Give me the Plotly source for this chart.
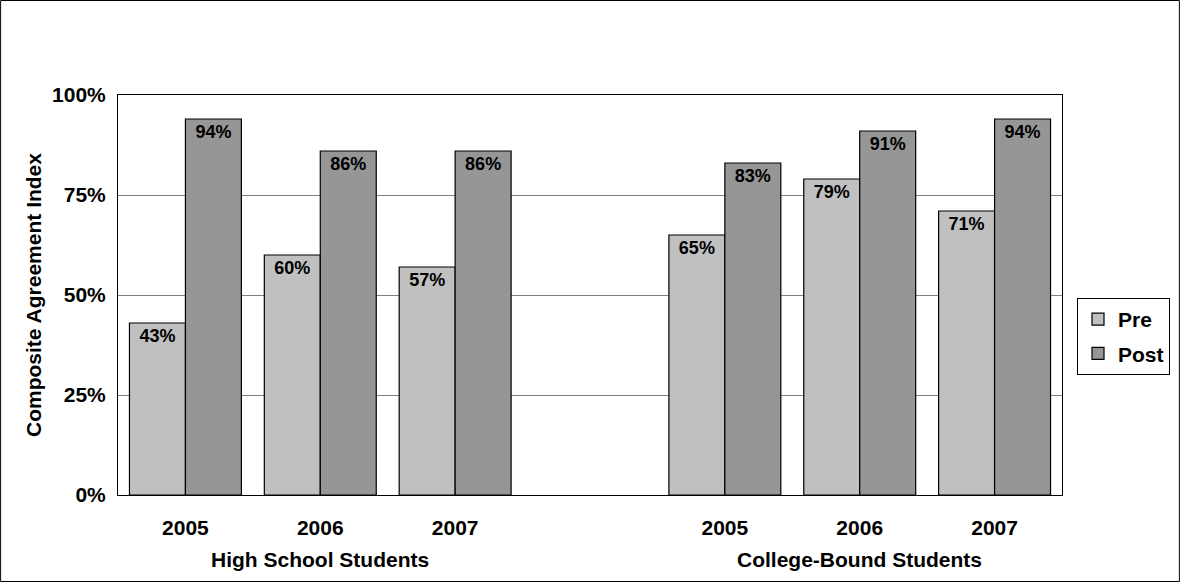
import plotly.graph_objects as go

years = ["2005", "2006", "2007", "2005", "2006", "2007"]
groups = ["High School Students", "College-Bound Students"]
pre = [43, 60, 57, 65, 79, 71]
post = [94, 86, 86, 83, 91, 94]
xpos = [0, 1, 2, 4, 5, 6]
group_centers = [1, 5]

FONT = "Arial, Liberation Sans, sans-serif"
AX = dict(family=FONT, size=21, color="black", weight="bold")
LBL = dict(family=FONT, size=18, color="black", weight="bold")

fig = go.Figure()
fig.add_trace(go.Bar(
    x=xpos, y=pre, name="Pre", marker=dict(color="#C0C0C0", line=dict(color="black", width=1.2)),
    text=[f"{v}%" for v in pre], textposition="inside", insidetextanchor="end",
    textfont=LBL, constraintext="none", legendgroup="a"))
fig.add_trace(go.Bar(
    x=xpos, y=post, name="Post", marker=dict(color="#969696", line=dict(color="black", width=1.2)),
    text=[f"{v}%" for v in post], textposition="inside", insidetextanchor="end",
    textfont=LBL, constraintext="none", legendgroup="b"))

for gx, g in zip(group_centers, groups):
    fig.add_annotation(x=gx, y=0, xref="x", yref="paper", yanchor="middle", yshift=-64, text=g,
                       showarrow=False, font=AX)

W, H = 1181, 582
L, R, T, B = 118, 1063, 95, 495
pw, ph = R - L, B - T
fig.add_shape(type="rect", xref="paper", yref="paper",
              x0=(0.5 - L) / pw, x1=(W - 0.5 - L) / pw,
              y0=(B - (H - 0.5)) / ph, y1=(B - 0.5) / ph,
              line=dict(color="black", width=1))

fig.update_layout(
    width=W, height=H, margin=dict(l=L, r=W - R, t=T, b=H - B),
    paper_bgcolor="white", plot_bgcolor="white",
    barmode="group", bargap=0.17, bargroupgap=0,
    font=AX,
    showlegend=True,
    legend=dict(x=(1077 - L) / pw, xanchor="left", y=(B - 336.5) / ph, yanchor="middle",
                bordercolor="black", borderwidth=1, bgcolor="white",
                font=AX, traceorder="grouped", tracegroupgap=4, itemwidth=30),
    xaxis=dict(range=[-0.5, 6.5], tickvals=xpos, ticktext=years, showgrid=False,
               showline=True, linecolor="black", mirror=True, ticks="", ticklen=0,
               ticklabelstandoff=14, tickfont=AX, zeroline=False),
    yaxis=dict(range=[0, 100], tickvals=[0, 25, 50, 75, 100],
               ticktext=["0%", "25%", "50%", "75%", "100%"],
               showgrid=True, gridcolor="#808080", gridwidth=1,
               showline=True, linecolor="black", mirror=True, zeroline=False,
               ticks="", ticklabelstandoff=7, tickfont=AX,
               title=dict(text="Composite Agreement Index", standoff=4, font=AX)),
)

fig.write_html("out.html")
